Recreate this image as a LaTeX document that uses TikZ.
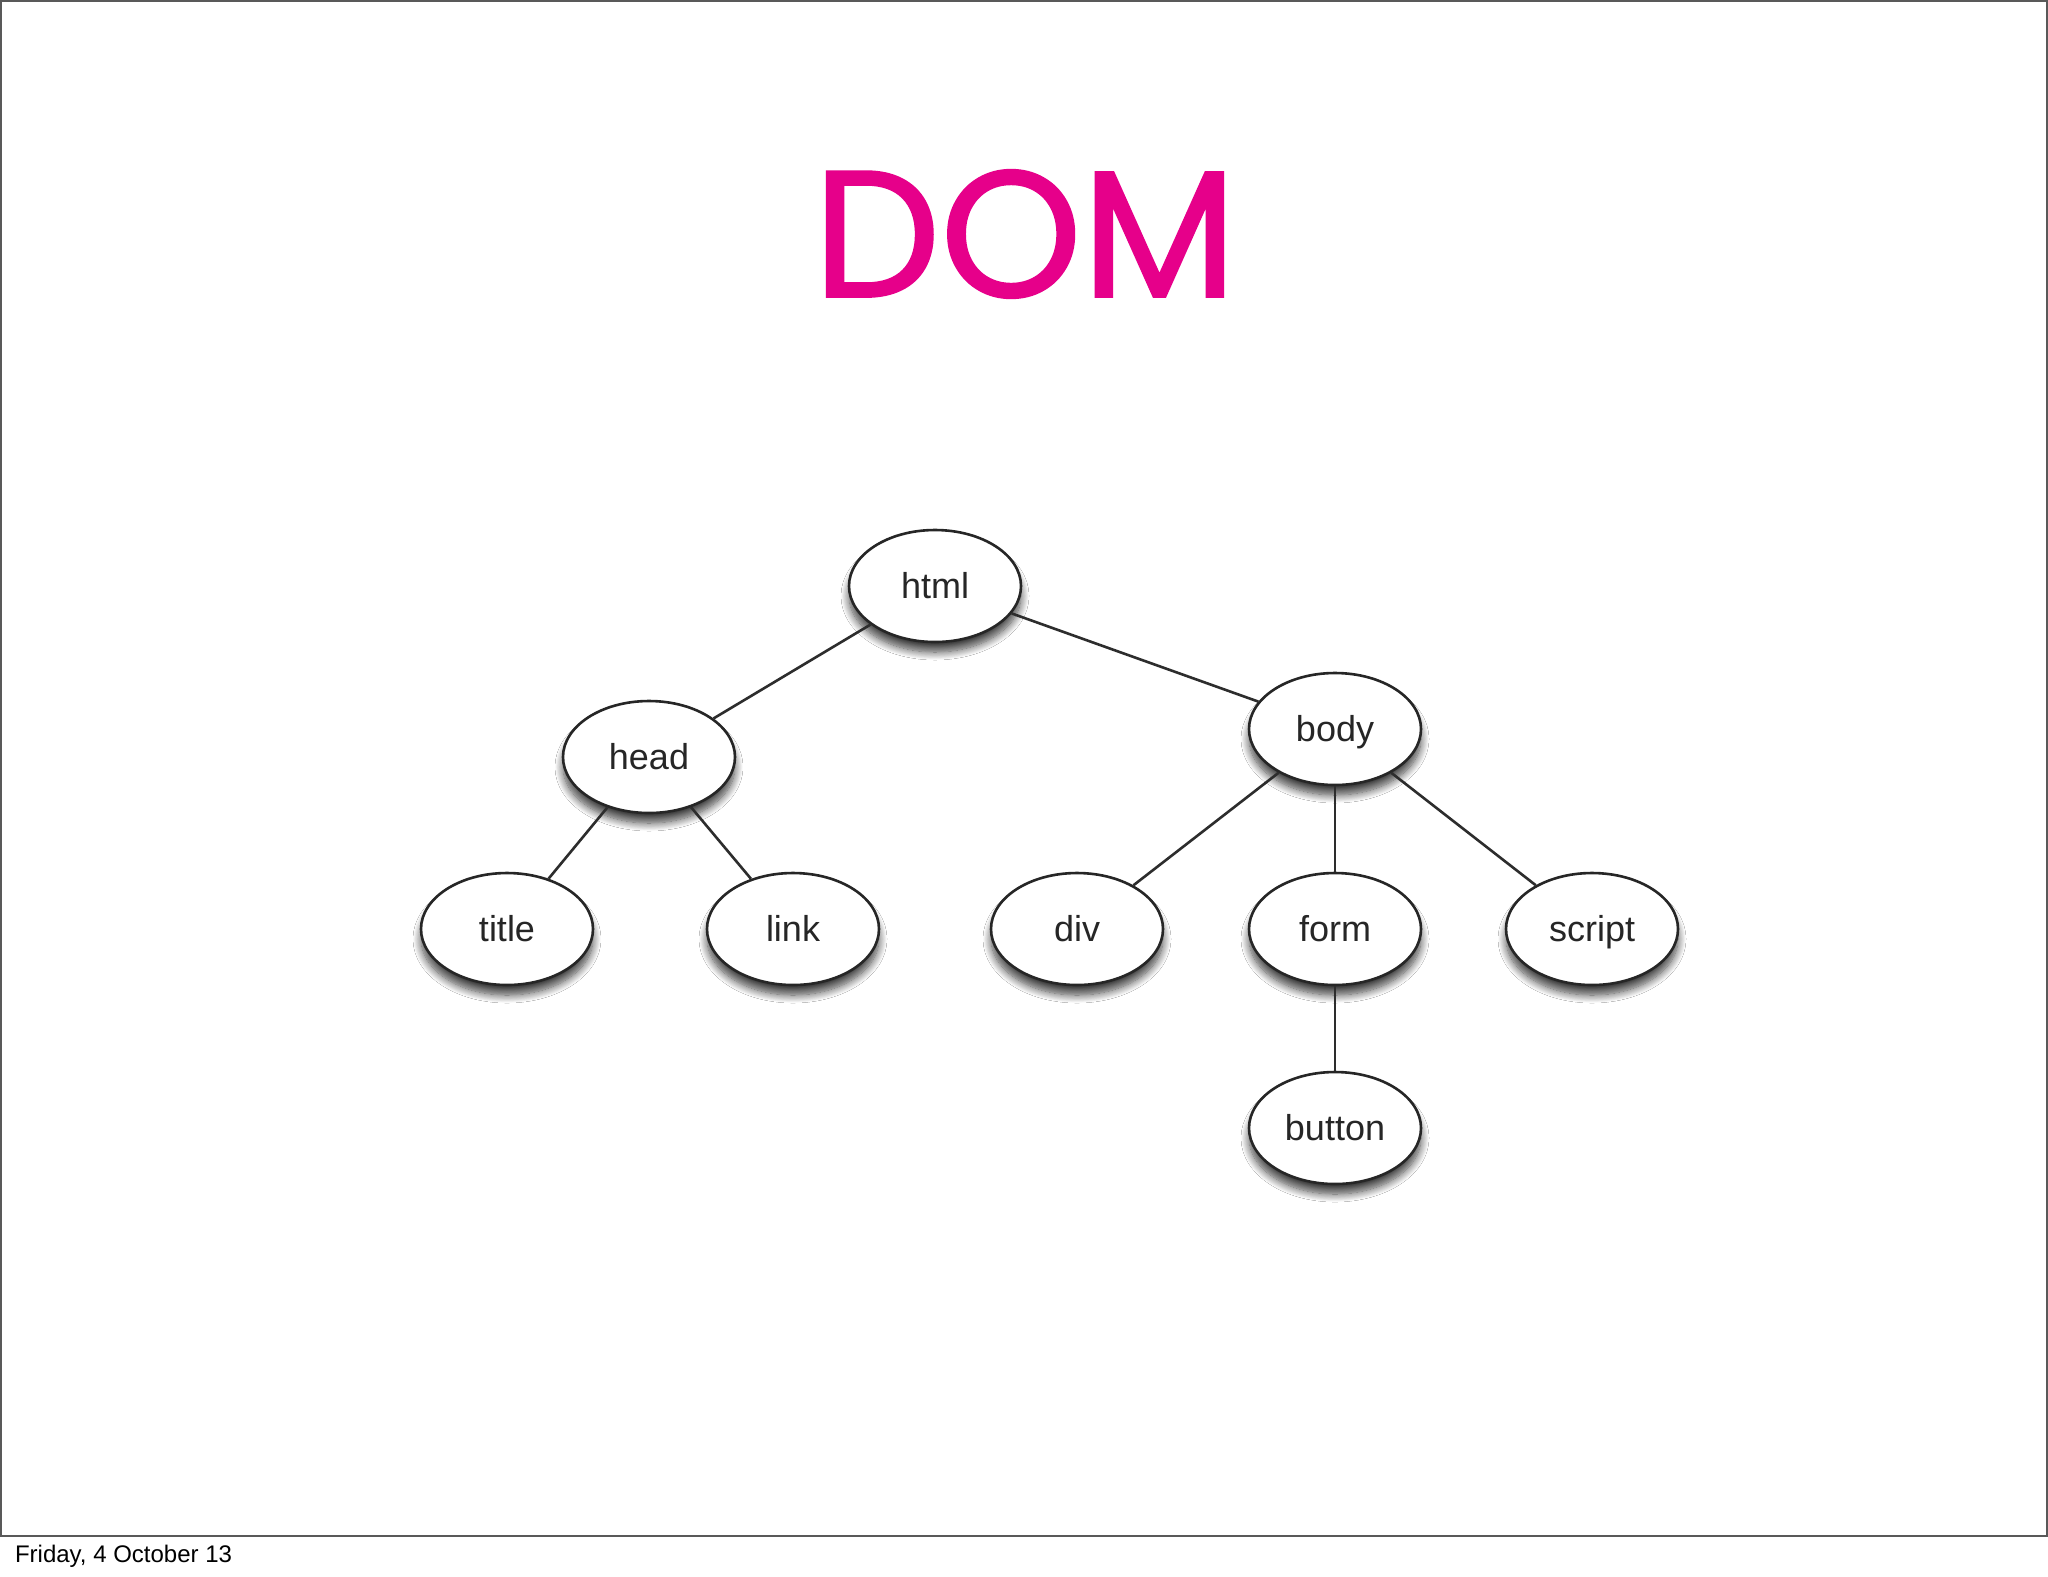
\documentclass[tikz,border=0pt]{standalone}
\usepackage{fontspec}
\setmainfont{Liberation Sans}
\newfontfamily\titlefont{Poppins}[FakeBold=1.2]
\usetikzlibrary{shapes.geometric,shadows.blur}
\definecolor{dommag}{RGB}{230,0,138}
\definecolor{edgegray}{RGB}{45,45,45}
\tikzset{
  domnode/.style={ellipse, draw=black!85, line width=1.3pt, fill=white,
    minimum width=86pt, minimum height=56pt, inner sep=0pt,
    text height=15pt, text depth=3pt,
    font=\fontsize{18}{20}\selectfont, text=black!85,
    blur shadow={shadow xshift=0pt, shadow yshift=-5pt, shadow blur steps=12, shadow blur radius=4pt, shadow opacity=75}},
  domedge/.style={draw=edgegray, line width=1.3pt}
}
\begin{document}
\begin{tikzpicture}[x=0.5pt,y=-0.5pt]
\useasboundingbox (0,0) rectangle (2048,1576);
\fill[white] (0,0) rectangle (2048,1576);
\draw[black!65, line width=1pt] (1,1) rectangle (2047,1536);
\node[font=\titlefont\fontsize{90}{100}\selectfont, text=dommag] (title) at (1025,234) {DOM};
\node[anchor=base west, font=\fontsize{12}{14}\selectfont] (date) at (8,1562) {Friday, 4 October 13};
\node[domnode] (html) at (935,586) {html};
\node[domnode] (head) at (649,757) {head};
\node[domnode] (body) at (1335,729) {body};
\node[domnode] (titlen) at (507,929) {title};
\node[domnode] (link) at (793,929) {link};
\node[domnode] (div) at (1077,929) {div};
\node[domnode] (form) at (1335,929) {form};
\node[domnode] (script) at (1592,929) {script};
\node[domnode] (button) at (1335,1128) {button};
\draw[domedge] (html) -- (head);
\draw[domedge] (html) -- (body);
\draw[domedge] (head) -- (titlen);
\draw[domedge] (head) -- (link);
\draw[domedge] (body) -- (div);
\draw[domedge] (body) -- (form);
\draw[domedge] (body) -- (script);
\draw[domedge] (form) -- (button);
\end{tikzpicture}
\end{document}
